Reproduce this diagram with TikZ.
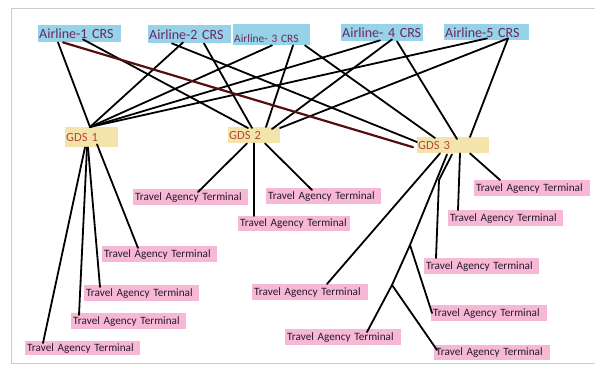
\documentclass[tikz,border=0pt]{standalone}
\usepackage{fontspec}
\setmainfont{Carlito}
\definecolor{crsblue}{RGB}{150,210,232}
\definecolor{crstext}{RGB}{105,40,100}
\definecolor{gdsfill}{RGB}{243,228,172}
\definecolor{gdstext}{RGB}{185,70,55}
\definecolor{tafill}{RGB}{246,184,212}
\definecolor{tatext}{RGB}{40,25,45}
\definecolor{redlink}{RGB}{85,15,15}

\begin{document}
\begin{tikzpicture}[x=1pt, y=-1pt,
    crs/.style={fill=crsblue, text=crstext, anchor=north west, inner xsep=1pt, inner ysep=0pt,
        align=left, font=\fontsize{14}{16}\selectfont},
    gds/.style={fill=gdsfill, text=gdstext, anchor=north west, inner xsep=1pt, inner ysep=0pt,
        align=left, font=\fontsize{12.5}{14}\selectfont},
    agency/.style={fill=tafill, text=tatext, anchor=north west, inner xsep=2pt, inner ysep=0pt,
        text width=111pt, minimum height=16pt, align=left, font=\fontsize{11.2}{13}\selectfont},
    link/.style={line width=1.8pt, line cap=round}]
    \useasboundingbox (0,0) rectangle (595,366);
    \draw[black!20, line width=0.8pt] (11,8) rectangle (600,363);

    % airline reservation systems
    \node[crs, text width=81pt, minimum height=17pt] (a1) at (38,25) {Airline-1 CRS};
    \node[crs, text width=81pt, minimum height=18pt] (a2) at (148,25) {Airline-2 CRS};
    \node[crs, text width=75pt, text height=15pt, text depth=0pt, inner ysep=3pt,
        font=\fontsize{11.4}{13}\selectfont] (a3) at (233,24) {Airline- 3 CRS};
    \node[crs, text width=80pt, minimum height=17pt] (a4) at (341,24) {Airline- 4 CRS};
    \node[crs, text width=83pt, minimum height=16pt] (a5) at (444,24) {Airline-5 CRS};

    % distribution systems
    \node[gds, text width=51pt, minimum height=20pt] (g1) at (65,127) {GDS 1};
    \node[gds, text width=50pt, minimum height=16pt] (g2) at (228,127) {GDS 2};
    \node[gds, text width=70pt, minimum height=16pt] (g3) at (417,137) {GDS 3};

    % terminals of GDS 1
    \node[agency] (t11) at (102,246) {Travel Agency Terminal};
    \node[agency] (t12) at (84,285) {Travel Agency Terminal};
    \node[agency] (t13) at (71,313) {Travel Agency Terminal};
    \node[agency, minimum height=14pt] (t14) at (25,341) {Travel Agency Terminal};
    % terminals of GDS 2
    \node[agency] (t21) at (133,189) {Travel Agency Terminal};
    \node[agency, minimum height=15pt, text width=108pt] (t22) at (238,216) {Travel Agency Terminal};
    \node[agency] (t23) at (266,188) {Travel Agency Terminal};
    % terminals of GDS 3
    \node[agency, text width=112pt] (t31) at (474,180) {Travel Agency Terminal};
    \node[agency] (t32) at (448,210) {Travel Agency Terminal};
    \node[agency] (t33) at (424,258) {Travel Agency Terminal};
    \node[agency, text width=112pt] (t34) at (252,284) {Travel Agency Terminal};
    \node[agency, text width=112pt] (t35) at (431,305) {Travel Agency Terminal};
    \node[agency, text width=112pt] (t36) at (285,329) {Travel Agency Terminal};
    \node[agency, text width=112pt, minimum height=15pt] (t37) at (434,345) {Travel Agency Terminal};

    \coordinate (p1) at (410,245);
    \coordinate (p2) at (392,285);
    \coordinate (bend) at (439,180);

    % airlines to GDS 1
    \draw[link] ([xshift=20pt]a1.south west) -- ([xshift=25pt]g1.north west);
    \draw[link] ([xshift=35pt,yshift=1pt]a2.south west) -- ([xshift=25pt]g1.north west);
    \draw[link] ([xshift=39pt]a3.south west) -- ([xshift=25pt]g1.north west);
    \draw[link] ([xshift=39pt,yshift=1pt]a4.south west) -- ([xshift=25pt]g1.north west);
    \draw[link] ([xshift=43pt,yshift=2pt]a5.south west) -- ([xshift=25pt]g1.north west);
    % airlines to GDS 2
    \draw[link] ([xshift=45pt,yshift=3pt]a1.south west) -- ([xshift=20pt,yshift=-1pt]g2.north west);
    \draw[link] ([xshift=56pt]a2.south west) -- ([xshift=24pt,yshift=-1pt]g2.north west);
    \draw[link] ([xshift=60pt]a3.south west) -- ([xshift=38pt]g2.north west);
    \draw[link] ([xshift=51pt,yshift=2pt]a4.south west) -- ([xshift=44pt,yshift=-2pt]g2.north west);
    \draw[link] ([xshift=64pt,yshift=2pt]a5.south west) -- ([xshift=52pt,yshift=-1pt]g2.north west);
    % airlines to GDS 3
    \draw[link, redlink, line width=2.2pt] ([xshift=25pt]a1.south west) -- ([xshift=-4pt,yshift=-2pt]g3.west);
    \draw[link] ([xshift=24pt]a2.south west) -- ([yshift=-5pt]g3.north west);
    \draw[link] ([xshift=72pt]a3.south west) -- ([xshift=18pt,yshift=-1pt]g3.north west);
    \draw[link] ([xshift=56pt]a4.south west) -- ([xshift=40pt,yshift=-2pt]g3.north west);
    \draw[link] ([xshift=64pt,yshift=2pt]a5.south west) -- ([xshift=53pt]g3.north west);

    % GDS 1 to terminals
    \draw[link] ([xshift=32pt,yshift=3pt]g1.south west) -- ([xshift=36pt,yshift=-2pt]t11.north west);
    \draw[link] ([xshift=23pt]g1.south west) -- ([xshift=16pt,yshift=-2pt]t12.north west);
    \draw[link] ([xshift=22pt]g1.south west) -- ([xshift=8pt,yshift=-2pt]t13.north west);
    \draw[link] ([xshift=20pt]g1.south west) -- ([xshift=18pt,yshift=-2pt]t14.north west);
    % GDS 2 to terminals
    \draw[link] ([xshift=19pt]g2.south west) -- ([xshift=65pt,yshift=-3pt]t21.north west);
    \draw[link] ([xshift=26pt]g2.south west) -- ([xshift=16pt]t22.north west);
    \draw[link] ([xshift=37pt]g2.south west) -- ([xshift=46pt,yshift=-2pt]t23.north west);
    % GDS 3 to terminals
    \draw[link] ([xshift=53pt]g3.south west) -- ([xshift=26pt]t31.north west);
    \draw[link] ([xshift=43pt]g3.south west) -- ([xshift=10pt]t32.north west);
    \draw[link] ([xshift=35pt,yshift=-1pt]g3.south west) -- (bend) -- ([xshift=12pt]t33.north west);
    \draw[link] ([xshift=23pt]g3.south west) -- ([xshift=75pt]t34.north west);
    \draw[link] ([xshift=30pt,yshift=-1pt]g3.south west) -- (p1) -- (p2) -- ([xshift=82pt,yshift=-3pt]t36.north west);
    \draw[link] (p1) -- ([xshift=1pt,yshift=-8pt]t35.north west);
    \draw[link] (p2) -- ([xshift=3pt,yshift=-5pt]t37.north west);
\end{tikzpicture}
\end{document}
